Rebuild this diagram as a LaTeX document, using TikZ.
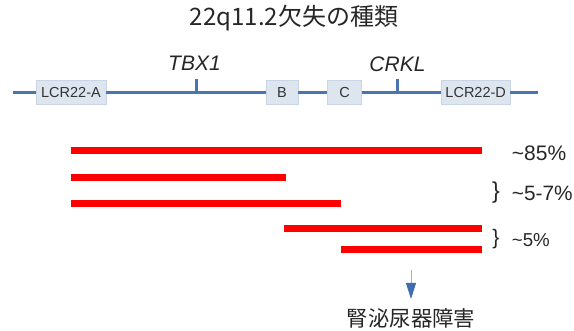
\documentclass[tikz,border=0pt]{standalone}
\usepackage{fontspec}
\setmainfont{Liberation Sans}
\newfontfamily\cjk{Noto Sans CJK JP}
\usetikzlibrary{arrows.meta}
\definecolor{chrblue}{HTML}{4A74B0}
\definecolor{boxfill}{HTML}{DDE5EF}
\definecolor{boxline}{HTML}{C9D5E4}
\definecolor{txtgray}{HTML}{333333}
\definecolor{arrline}{HTML}{9DB1CC}
\definecolor{arrhead}{HTML}{3F6DB0}
\tikzset{
  lcrbox/.style={draw=boxline, line width=0.6pt, fill=boxfill, minimum height=24pt, inner sep=0pt, text=txtgray, font=\fontsize{14.5}{16}\selectfont},
  chrline/.style={draw=chrblue, line width=3pt},
  gene/.style={font=\fontsize{21}{24}\selectfont\itshape, text=black!85, inner sep=0pt},
  redbar/.style={draw=red, line width=7pt},
  pct/.style={anchor=west, inner sep=0pt, text=black!85},
  brace/.style={inner sep=0pt, text=black!85},
}
\begin{document}
\begin{tikzpicture}[x=1pt, y=-1pt]
\useasboundingbox (0,0) rectangle (574,331);
% title
\node[font=\cjk\fontsize{24}{28}\selectfont, text=black!85, inner sep=0pt] (title) at (294,18.5) {22q11.2欠失の種類};
% chromosome
\coordinate (Lstart) at (12.7,92.3);
\coordinate (Lend) at (538.3,92.3);
\node[lcrbox, minimum width=70pt] (A) at (71,92.3) {LCR22-A};
\node[lcrbox, minimum width=32pt] (B) at (282,92.3) {B};
\node[lcrbox, minimum width=34pt] (C) at (344.7,92.3) {C};
\node[lcrbox, minimum width=68.7pt] (D) at (475.7,92.3) {LCR22-D};
\draw[chrline] (Lstart) -- (A.west);
\draw[chrline] (A.east) -- (B.west);
\draw[chrline] (B.east) -- (C.west);
\draw[chrline] (C.east) -- (D.west);
\draw[chrline] (D.east) -- (Lend);
% gene ticks
\coordinate (tbxbase) at (196.7,92.3);
\coordinate (tbxtop) at (196.7,79);
\coordinate (crkbase) at (397.7,92.3);
\coordinate (crktop) at (397.7,79.5);
\draw[chrline] (tbxbase) -- (tbxtop);
\draw[chrline] (crkbase) -- (crktop);
\node[gene] (tbx) at (194.5,63.5) {TBX1};
\node[gene] (crkl) at (397.5,64) {CRKL};
% deletion bars
\draw[redbar] (71.4,150.7) -- (481.7,150.7);
\draw[redbar] (71.4,177.7) -- (285.7,177.7);
\draw[redbar] (71.4,203.3) -- (340.7,203.3);
\draw[redbar] (283.9,228.2) -- (481.7,228.2);
\draw[redbar] (340.7,249.8) -- (481.7,249.8);
% labels
\node[pct, font=\fontsize{21}{24}\selectfont] (p85) at (511.7,153.3) {\char`\~85\%};
\node[brace, font=\fontsize{23}{26}\selectfont] (br1) at (496,193) {\}};
\node[pct, font=\fontsize{20.8}{24}\selectfont] (p57) at (511.7,193.3) {\char`\~5-7\%};
\node[brace, font=\fontsize{21}{24}\selectfont] (br2) at (496,239.5) {\}};
\node[pct, font=\fontsize{18.7}{22}\selectfont] (p5) at (511.7,240) {\char`\~5\%};
% arrow and outcome
\coordinate (arrStart) at (411,270);
\coordinate (arrEnd) at (411,299);
\draw[draw=arrline, line width=0.8pt, -{Triangle[width=10pt,length=16pt,color=arrhead]}] (arrStart) -- (arrEnd);
\node[font=\cjk\fontsize{21.4}{24}\selectfont, text=black!85, inner sep=0pt] (kidney) at (411,318.3) {腎泌尿器障害};
\end{tikzpicture}
\end{document}
